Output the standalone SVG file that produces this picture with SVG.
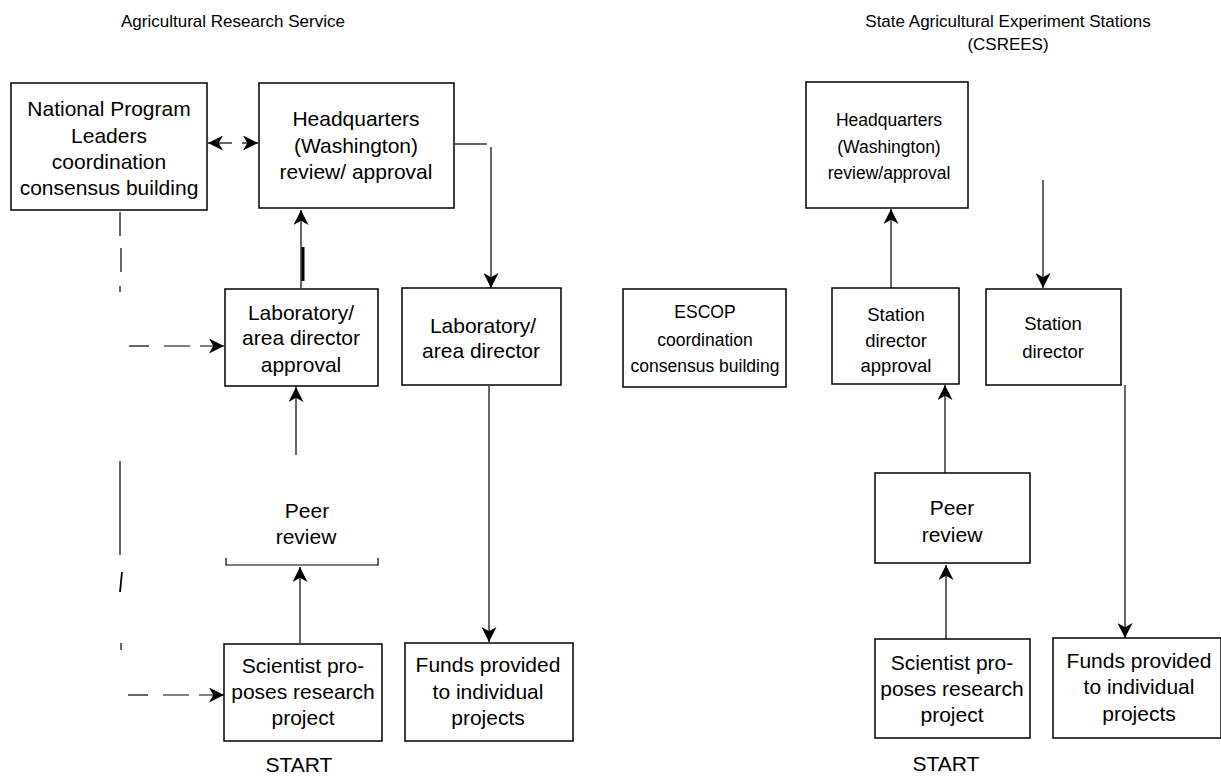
<svg xmlns="http://www.w3.org/2000/svg" width="1221" height="777" viewBox="0 0 1221 777">
<style>
text{font-family:"Liberation Sans",Arial,sans-serif;font-size:21px;fill:#000;text-anchor:middle}
.t{font-size:17px}
.s{font-size:17.5px}
.m{font-size:18.5px}
.b{fill:#fff;stroke:#000;stroke-width:1.5}
.c{fill:none;stroke:#000;stroke-width:1.2}
</style>
<defs>
<marker id="ah" viewBox="0 0 14 14" refX="14" refY="7" markerWidth="15" markerHeight="15" markerUnits="userSpaceOnUse" orient="auto-start-reverse">
<path d="M0,0 L14,7 L0,14 L4,7 z" fill="#000"/>
</marker>
</defs>
<text class="t" x="233" y="27">Agricultural Research Service</text>
<text class="t" x="1008" y="27">State Agricultural Experiment Stations</text>
<text class="t" x="1008" y="50">(CSREES)</text>

<g id="connectors">
<line class="c" x1="208" y1="143" x2="232" y2="143" marker-start="url(#ah)"/>
<line class="c" x1="242" y1="143" x2="258" y2="143" marker-end="url(#ah)"/>
<line class="c" x1="301" y1="288" x2="301" y2="210" marker-end="url(#ah)"/>
<line x1="303" y1="247" x2="303" y2="281" stroke="#000" stroke-width="3"/>
<line class="c" x1="455" y1="144" x2="487" y2="144"/>
<line class="c" x1="491" y1="147" x2="491" y2="288" marker-end="url(#ah)"/>
<line class="c" x1="120" y1="212" x2="120" y2="236"/>
<line class="c" x1="121" y1="248" x2="121" y2="272"/>
<line class="c" x1="120" y1="286" x2="120" y2="292"/>
<line class="c" x1="129" y1="346" x2="149" y2="346"/>
<line class="c" x1="164" y1="346" x2="224" y2="346" stroke-dasharray="26 10 60" marker-end="url(#ah)"/>
<line class="c" x1="296" y1="455" x2="296" y2="387" marker-end="url(#ah)"/>
<line class="c" x1="120" y1="461" x2="120" y2="555"/>
<line x1="122" y1="572" x2="120" y2="592" stroke="#000" stroke-width="1.8"/>
<line class="c" x1="121" y1="643" x2="121" y2="650"/>
<line class="c" x1="128" y1="695" x2="148" y2="695"/>
<line class="c" x1="163" y1="695" x2="224" y2="695" stroke-dasharray="26 10 60" marker-end="url(#ah)"/>
<line class="c" x1="300" y1="643" x2="300" y2="567" marker-end="url(#ah)"/>
<line class="c" x1="489" y1="386" x2="489" y2="642" marker-end="url(#ah)"/>
<line class="c" x1="891" y1="288" x2="891" y2="209" marker-end="url(#ah)"/>
<line class="c" x1="1043" y1="180" x2="1043" y2="288" marker-end="url(#ah)"/>
<line class="c" x1="945" y1="473" x2="945" y2="385" marker-end="url(#ah)"/>
<line class="c" x1="946" y1="639" x2="946" y2="565" marker-end="url(#ah)"/>
<line class="c" x1="1125" y1="385" x2="1125" y2="638" marker-end="url(#ah)"/>
</g>

<g id="ars-npl">
<rect class="b" x="11" y="83" width="196" height="127"/>
<text x="109" y="116">National Program</text>
<text x="109" y="143">Leaders</text>
<text x="109" y="169">coordination</text>
<text x="109" y="195">consensus building</text>
</g>
<g id="ars-hq">
<rect class="b" x="259" y="83" width="195" height="125"/>
<text x="356" y="126">Headquarters</text>
<text x="356" y="153">(Washington)</text>
<text x="356" y="179">review/ approval</text>
</g>
<g id="ars-lab-approval">
<rect class="b" x="225" y="289" width="153" height="97"/>
<text x="301" y="320">Laboratory/</text>
<text x="301" y="345">area director</text>
<text x="301" y="372">approval</text>
</g>
<g id="ars-lab-director">
<rect class="b" x="402" y="288" width="159" height="97"/>
<text x="483" y="333">Laboratory/</text>
<text x="481" y="358">area director</text>
</g>
<g id="ars-peer">
<polyline class="c" points="226,558 226,565 378,565 378,558"/>
<text x="307" y="518">Peer</text>
<text x="306" y="544">review</text>
</g>
<g id="ars-scientist">
<rect class="b" x="224" y="644" width="158" height="97"/>
<text x="303" y="673">Scientist pro-</text>
<text x="303" y="699">poses research</text>
<text x="303" y="725">project</text>
<text x="299" y="772">START</text>
</g>
<g id="ars-funds">
<rect class="b" x="405" y="643" width="168" height="98"/>
<text x="488" y="672">Funds provided</text>
<text x="488" y="699">to individual</text>
<text x="488" y="725">projects</text>
</g>

<g id="saes-hq">
<rect class="b" x="806" y="82" width="162" height="126"/>
<text class="s" x="889" y="126">Headquarters</text>
<text class="s" x="889" y="153">(Washington)</text>
<text class="s" x="889" y="179">review/approval</text>
</g>
<g id="saes-escop">
<rect class="b" x="623" y="289" width="163" height="98"/>
<text class="s" x="705" y="318">ESCOP</text>
<text class="s" x="705" y="346">coordination</text>
<text class="s" x="705" y="372">consensus building</text>
</g>
<g id="saes-station-approval">
<rect class="b" x="832" y="288" width="127" height="96"/>
<text class="m" x="896" y="321">Station</text>
<text class="m" x="896" y="347">director</text>
<text class="m" x="896" y="372">approval</text>
</g>
<g id="saes-station-director">
<rect class="b" x="986" y="289" width="135" height="96"/>
<text class="m" x="1053" y="330">Station</text>
<text class="m" x="1053" y="358">director</text>
</g>
<g id="saes-peer">
<rect class="b" x="875" y="473" width="155" height="90"/>
<text x="952" y="515">Peer</text>
<text x="952" y="542">review</text>
</g>
<g id="saes-scientist">
<rect class="b" x="875" y="639" width="155" height="99"/>
<text x="952" y="670">Scientist pro-</text>
<text x="952" y="696">poses research</text>
<text x="952" y="722">project</text>
<text x="946" y="771">START</text>
</g>
<g id="saes-funds">
<rect class="b" x="1053" y="638" width="168" height="100"/>
<text x="1139" y="668">Funds provided</text>
<text x="1139" y="694">to individual</text>
<text x="1139" y="721">projects</text>
</g>
</svg>
